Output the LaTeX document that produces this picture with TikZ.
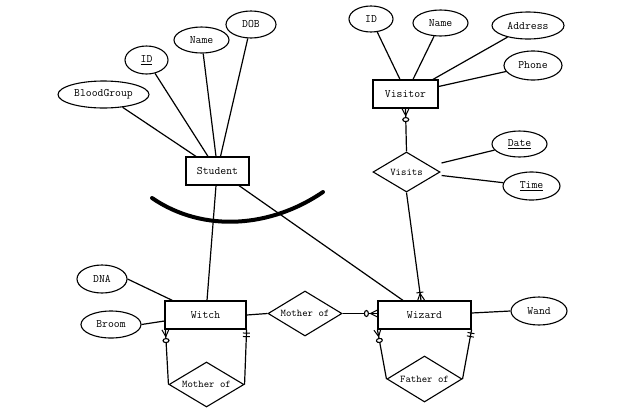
\documentclass[tikz,border=0pt]{standalone}
\usepackage{fontspec}
\usetikzlibrary{shapes.geometric,decorations.markings,calc}
\tikzset{
  bigtxt/.style={font=\ttfamily\fontsize{11.4}{13}\selectfont},
  smalltxt/.style={font=\ttfamily\fontsize{10.3}{12}\selectfont},
  ent/.style={draw, rectangle, line width=1.2pt, inner sep=0pt, bigtxt},
  attr/.style={draw, ellipse, line width=1.1pt, inner sep=0pt, bigtxt},
  rel/.style={draw, diamond, line width=1.1pt, inner sep=0pt, smalltxt},
  conn/.style={line width=1.2pt},
  zeromany/.style={postaction={decorate,decoration={markings,mark=at position 1 with {
      \draw[line width=1pt] (-7,0) -- (0,3.5) (-7,0) -- (0,-3.5);
      \draw[line width=1.1pt, fill=white] (-11,0) ellipse [x radius=2pt, y radius=3pt];}}}},
  onemany/.style={postaction={decorate,decoration={markings,mark=at position 1 with {
      \draw[line width=1pt] (-7,0) -- (0,3.5) (-7,0) -- (0,-3.5);
      \draw[line width=1pt] (-8,-3.5) -- (-8,3.5);}}}},
  oneone/.style={postaction={decorate,decoration={markings,mark=at position 1 with {
      \draw[line width=1pt] (-3.5,-3.5) -- (-3.5,3.5) (-7,-3.5) -- (-7,3.5);}}}},
  thickarc/.style={line width=4pt, line cap=round}
}
\begin{document}
\begin{tikzpicture}[x=1pt,y=-1pt]
\useasboundingbox[fill=white] (0,0) rectangle (620,413);

% entities
\node[ent, minimum width=63pt, minimum height=28pt] (student) at (217.5,171) {Student};
\node[ent, minimum width=65pt, minimum height=28pt] (visitor) at (405.5,94) {Visitor};
\node[ent, minimum width=81pt, minimum height=28pt] (witch) at (205.5,315) {Witch};
\node[ent, minimum width=93pt, minimum height=28pt] (wizard) at (424.5,315) {Wizard};

% attributes
\node[attr, minimum width=91pt, minimum height=27pt] (blood) at (103.5,94.5) {BloodGroup};
\node[attr, minimum width=43pt, minimum height=28pt] (sid) at (146.5,60) {\underline{ID}};
\node[attr, minimum width=55pt, minimum height=26pt] (sname) at (201.5,40) {Name};
\node[attr, minimum width=50pt, minimum height=27pt] (dob) at (251,24.5) {DOB};
\node[attr, minimum width=44pt, minimum height=26pt] (vid) at (371,19) {ID};
\node[attr, minimum width=55pt, minimum height=26pt] (vname) at (440.5,23) {Name};
\node[attr, minimum width=72pt, minimum height=27pt] (address) at (528,25.5) {Address};
\node[attr, minimum width=58pt, minimum height=29pt] (phone) at (533,65.5) {Phone};
\node[attr, minimum width=55pt, minimum height=26pt] (date) at (519.5,144) {\underline{Date}};
\node[attr, minimum width=57pt, minimum height=28pt] (time) at (531.5,186) {\underline{Time}};
\node[attr, minimum width=50pt, minimum height=28pt] (dna) at (102,279) {DNA};
\node[attr, minimum width=60pt, minimum height=27pt] (broom) at (111,324.5) {Broom};
\node[attr, minimum width=56pt, minimum height=28pt] (wand) at (539,311) {Wand};

% relationships
\node[rel, aspect=1.675, minimum width=67pt, minimum height=40pt] (visits) at (406.5,172) {Visits};
\node[rel, aspect=1.644, minimum width=74pt, minimum height=45pt] (mothermid) at (305,313.5) {Mother of};
\node[rel, aspect=1.667, minimum width=75pt, minimum height=45pt] (motherlow) at (206.5,384.5) {Mother of};
\node[rel, aspect=1.630, minimum width=75pt, minimum height=46pt] (father) at (424.5,379) {Father of};

% student attributes
\draw[conn] (blood) -- ($(student.north)+(-21.5,0)$);
\draw[conn] (sid) -- ($(student.north)+(-9.5,0)$);
\draw[conn] (sname) -- ($(student.north)+(-1.5,0)$);
\draw[conn] (dob) -- ($(student.north)+(3,0)$);

% visitor attributes
\draw[conn] (vid) -- ($(visitor.north)+(-5.5,0)$);
\draw[conn] (vname) -- ($(visitor.north)+(7.5,0)$);
\draw[conn] (address) -- ($(visitor.north)+(27.5,0)$);
\draw[conn] (phone) -- ($(visitor.east)+(0,-7.5)$);

% visits attributes
\draw[conn] (date) -- ($(visits.east)+(1,-9)$);
\draw[conn] (time) -- ($(visits.east)+(1,3.5)$);

% witch / wizard attributes
\draw[conn] (dna.east) -- ($(witch.north west)+(8,0)$);
\draw[conn] (broom.east) -- ($(witch.west)+(0,6)$);
\draw[conn] ($(wizard.east)+(0,-2)$) -- (wand.west);

% hierarchy
\draw[conn] ($(student.south)+(-1.5,0)$) -- ($(witch.north)+(1.5,0)$);
\draw[conn] ($(student.south)+(21.5,0)$) -- ($(wizard.north)+(-21.5,0)$);
\draw[thickarc] (152,198) .. controls (203.7,233.4) and (271.3,227.4) .. (323,192);

% relationships with cardinalities
\draw[conn, zeromany] (visits.north) -- (visitor.south);
\draw[conn, onemany] (visits.south) -- ($(wizard.north)+(-3.5,0)$);
\draw[conn] (witch.east) -- (mothermid.west);
\draw[conn, zeromany] (mothermid.east) -- ($(wizard.west)+(0,-1.5)$);
\draw[conn, zeromany] (motherlow.west) -- ($(witch.south west)+(1,0)$);
\draw[conn, oneone] (motherlow.east) -- (witch.south east);
\draw[conn, zeromany] (father.west) -- (wizard.south west);
\draw[conn, oneone] (father.east) -- (wizard.south east);
\end{tikzpicture}
\end{document}
